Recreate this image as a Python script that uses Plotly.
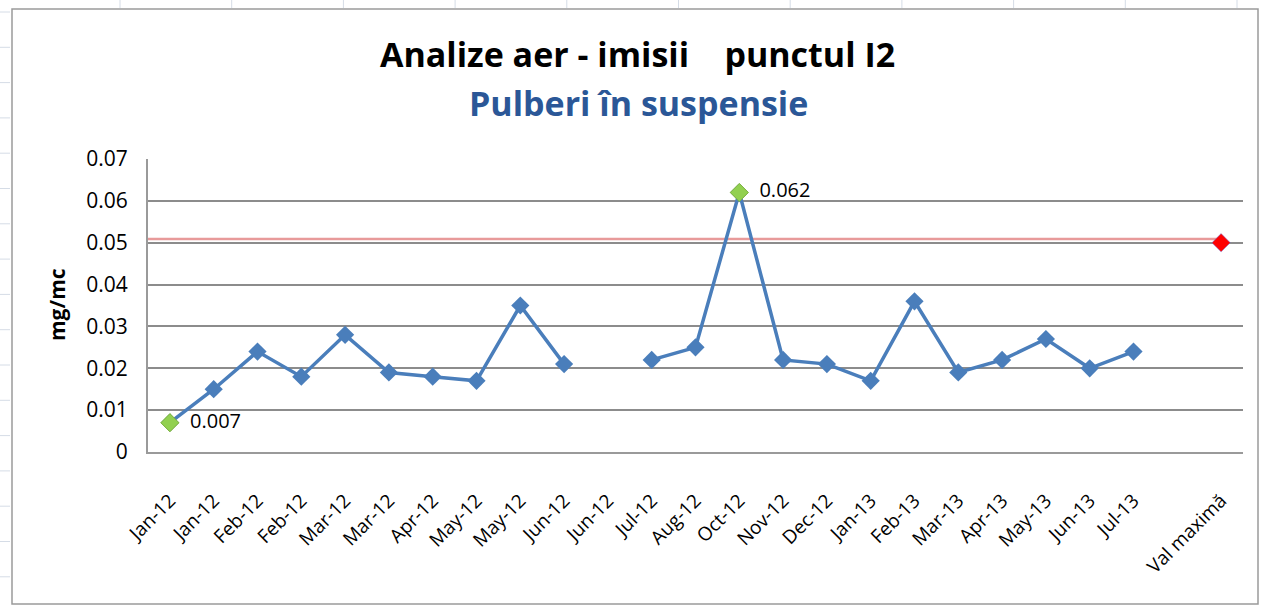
import plotly.graph_objects as go

# ---------------- data ----------------
categories = ["Jan-12", "Jan-12", "Feb-12", "Feb-12", "Mar-12", "Mar-12", "Apr-12",
              "May-12", "May-12", "Jun-12", "Jun-12", "Jul-12", "Aug-12", "Oct-12",
              "Nov-12", "Dec-12", "Jan-13", "Feb-13", "Mar-13", "Apr-13", "May-13",
              "Jun-13", "Jul-13", "", "Val maximă"]
values = [0.007, 0.015, 0.024, 0.018, 0.028, 0.019, 0.018,
          0.017, 0.035, 0.021, None, 0.022, 0.025, 0.062,
          0.022, 0.021, 0.017, 0.036, 0.019, 0.022, 0.027,
          0.020, 0.024, None, None]
val_maxima = [None] * 24 + [0.05]
limit_line_value = 0.0509
y_ticks = [0, 0.01, 0.02, 0.03, 0.04, 0.05, 0.06, 0.07]
y_tick_labels = ["0", "0.01", "0.02", "0.03", "0.04", "0.05", "0.06", "0.07"]

title_text = "Analize aer - imisii\u00a0\u00a0\u00a0 punctul I2"
subtitle_text = "Pulberi în suspensie"
y_title = "mg/mc"

# ---------------- figure ----------------
FONT = "Open Sans"
xs = list(range(len(categories)))

fig = go.Figure()

# limit line (drawn under the data)
fig.add_shape(type="line", xref="x", yref="y",
              x0=-0.5, x1=xs[-1], y0=limit_line_value, y1=limit_line_value,
              line=dict(color="#E89A9A", width=2.5), layer="below")

fig.add_trace(go.Scatter(
    x=xs, y=values, mode="lines+markers",
    line=dict(color="#4A7EBB", width=3.5),
    marker=dict(symbol="diamond", size=14, color="#4A7EBB"),
    connectgaps=False, showlegend=False, hoverinfo="x+y"))

# min / max highlighted points
valid = [(i, v) for i, v in enumerate(values) if v is not None]
imin = min(valid, key=lambda t: t[1])[0]
imax = max(valid, key=lambda t: t[1])[0]
fig.add_trace(go.Scatter(
    x=[imin, imax], y=[values[imin], values[imax]], mode="markers+text",
    marker=dict(symbol="diamond", size=14, color="#92D050",
                line=dict(color="#7EB33F", width=1)),
    text=["  %.3f" % values[imin], "  %.3f" % values[imax]],
    textposition="middle right",
    textfont=dict(family=FONT, size=20, color="#000000"),
    showlegend=False))

fig.add_trace(go.Scatter(
    x=xs, y=val_maxima, mode="markers",
    marker=dict(symbol="diamond", size=14, color="#FF0000",
                line=dict(color="#6A6AD0", width=0.5)),
    showlegend=False))

# spreadsheet-like decoration and chart border (pixel-based paper coords)
PL, PR, PT, PB = 148, 25, 159, 154
W, H = 1268, 606
pw, ph = W - PL - PR, H - PT - PB


def px(xp):
    return (xp - PL) / pw


def py(yp):
    return (H - PB - yp) / ph


shapes = []
for k in range(17):
    yy = 12 + k * 35.3
    shapes.append(dict(type="line", xref="paper", yref="paper",
                       x0=px(0), x1=px(10), y0=py(yy), y1=py(yy),
                       line=dict(color="#D5DCE6", width=1)))
for k in range(11):
    xx = 120 + k * 111.7
    shapes.append(dict(type="line", xref="paper", yref="paper",
                       x0=px(xx), x1=px(xx), y0=py(0), y1=py(8),
                       line=dict(color="#D5DCE6", width=1)))
shapes.append(dict(type="rect", xref="paper", yref="paper",
                   x0=px(12), x1=px(1258), y0=py(9), y1=py(604),
                   line=dict(color="#9A9A9A", width=1.5), fillcolor="rgba(0,0,0,0)",
                   layer="below"))
for s in shapes:
    fig.add_shape(**s)

fig.add_annotation(text="<b>%s</b>" % title_text, xref="paper", yref="paper",
                   x=px(637), y=py(54), xanchor="center", yanchor="middle",
                   showarrow=False,
                   font=dict(family=FONT, size=34, color="#000000"))
fig.add_annotation(text="<b>%s</b>" % subtitle_text, xref="paper", yref="paper",
                   x=px(638), y=py(103), xanchor="center", yanchor="middle",
                   showarrow=False,
                   font=dict(family=FONT, size=34, color="#2B5797"))
fig.add_annotation(text="<b>%s</b>" % y_title, xref="paper", yref="paper",
                   x=px(57), y=py(305), xanchor="center", yanchor="middle",
                   showarrow=False, textangle=-90,
                   font=dict(family=FONT, size=21, color="#000000"))

fig.update_layout(
    width=W, height=H,
    margin=dict(l=PL, r=PR, t=PT, b=PB, pad=0),
    paper_bgcolor="#FFFFFF", plot_bgcolor="#FFFFFF",
    font=dict(family=FONT, color="#000000"),
    showlegend=False,
)
fig.update_xaxes(
    range=[-0.5, len(categories) - 0.5],
    tickmode="array", tickvals=xs, ticktext=categories,
    tickangle=-45, tickfont=dict(family=FONT, size=19, color="#000000"),
    showgrid=False, zeroline=False,
    showline=True, linecolor="#9A9A9A", linewidth=2,
    ticks="outside", ticklen=28, tickcolor="rgba(0,0,0,0)")
fig.update_yaxes(
    range=[0, 0.07],
    tickmode="array", tickvals=y_ticks, ticktext=y_tick_labels,
    tickfont=dict(family=FONT, size=21, color="#000000"),
    showgrid=True, gridcolor="#8C8C8C", gridwidth=1.5,
    zeroline=False, showline=True, linecolor="#9A9A9A", linewidth=2,
    ticks="outside", ticklen=14, tickcolor="rgba(0,0,0,0)")

fig.write_html("out.html",
               config={"displayModeBar": False},
               post_script="document.body.style.margin='0px';"
                           "document.body.style.overflow='hidden';")
